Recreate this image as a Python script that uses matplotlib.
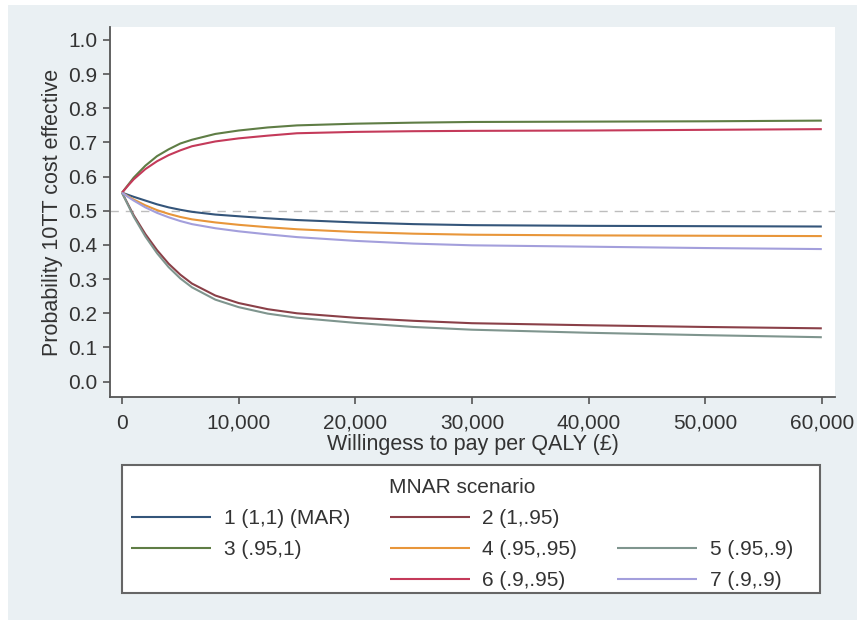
import matplotlib
matplotlib.use("Agg")
import matplotlib.pyplot as plt
from matplotlib.lines import Line2D
from matplotlib.patches import Rectangle
from matplotlib.ticker import FuncFormatter

plt.rcParams['font.family'] = ['Liberation Sans', 'DejaVu Sans']

# Willingness-to-pay grid (GBP per QALY)
wtp = [0, 500, 1000, 2000, 3000, 4000, 5000, 6000, 8000, 10000,
       12500, 15000, 20000, 25000, 30000, 40000, 50000, 60000]

# Probability cost effective, one list per MNAR scenario
s1_mar = [0.553, 0.547, 0.541, 0.530, 0.519, 0.510, 0.503, 0.497, 0.489, 0.484,
          0.478, 0.473, 0.466, 0.461, 0.458, 0.456, 0.455, 0.454]
s2_1_95 = [0.553, 0.520, 0.487, 0.432, 0.385, 0.345, 0.313, 0.287, 0.252, 0.230,
           0.212, 0.200, 0.187, 0.178, 0.171, 0.165, 0.160, 0.156]
s3_95_1 = [0.553, 0.575, 0.597, 0.632, 0.660, 0.680, 0.697, 0.708, 0.725, 0.735,
           0.744, 0.750, 0.755, 0.758, 0.760, 0.761, 0.762, 0.764]
s4_95_95 = [0.553, 0.543, 0.533, 0.516, 0.502, 0.491, 0.482, 0.475, 0.466, 0.459,
            0.452, 0.446, 0.438, 0.433, 0.430, 0.428, 0.427, 0.426]
s5_95_9 = [0.553, 0.518, 0.483, 0.425, 0.376, 0.335, 0.302, 0.276, 0.240, 0.218,
           0.199, 0.187, 0.172, 0.160, 0.152, 0.143, 0.136, 0.130]
s6_9_95 = [0.553, 0.573, 0.592, 0.622, 0.645, 0.663, 0.677, 0.689, 0.703, 0.712,
           0.720, 0.727, 0.731, 0.733, 0.734, 0.735, 0.737, 0.739]
s7_9_9 = [0.553, 0.541, 0.530, 0.510, 0.494, 0.481, 0.470, 0.461, 0.449, 0.440,
          0.431, 0.423, 0.412, 0.404, 0.399, 0.395, 0.391, 0.388]

labels = ["1 (1,1) (MAR)", "2 (1,.95)", "3 (.95,1)", "4 (.95,.95)",
          "5 (.95,.9)", "6 (.9,.95)", "7 (.9,.9)"]
series = [s1_mar, s2_1_95, s3_95_1, s4_95_95, s5_95_9, s6_9_95, s7_9_9]

# Stata s2color palette (slightly faded)
colors = ["#34557a", "#8a4048", "#5f7d45", "#e8963a", "#7f958e", "#c43a5a", "#a39fdc"]

W, H = 857, 620
fig = plt.figure(figsize=(W / 100, H / 100), dpi=100)
fig.patch.set_facecolor("white")

# graph region background
fig.patches.append(Rectangle((8 / W, 0), 1 - 8 / W, 1 - 5 / H,
                             transform=fig.transFigure, facecolor="#eaf0f3",
                             edgecolor="none", zorder=-10))

ax = fig.add_axes([110 / W, (H - 397) / H, (835 - 110) / W, (397 - 27) / H])
ax.set_facecolor("white")

lines = []
for ys, c, lab in zip(series, colors, labels):
    ln, = ax.plot(wtp, ys, color=c, lw=1.5, label=lab, solid_capstyle="butt")
    lines.append(ln)

ax.axhline(0.5, color="#bdbdbd", lw=1.0, dashes=(6, 5), zorder=0)

ax.set_xlim(-1030, 61130)
ax.set_ylim(-0.045, 1.038)
ax.set_xticks([0, 10000, 20000, 30000, 40000, 50000, 60000])
ax.xaxis.set_major_formatter(FuncFormatter(lambda v, p: f"{int(v):,}"))
ax.set_yticks([i / 10 for i in range(11)])
ax.yaxis.set_major_formatter(FuncFormatter(lambda v, p: f"{v:.1f}"))

txt = "#333333"
ax.tick_params(axis="both", direction="out", length=5, width=1.2,
               color="#555555", labelsize=15, labelcolor=txt, pad=4)
ax.tick_params(axis="x", pad=7)
for s in ["top", "right"]:
    ax.spines[s].set_visible(False)
for s in ["left", "bottom"]:
    ax.spines[s].set_color("#555555")
    ax.spines[s].set_linewidth(1.3)

ax.set_ylabel("Probability 10TT cost effective", fontsize=15.5, color=txt, labelpad=4)
ax.set_xlabel("Willingess to pay per QALY (£)", fontsize=15.5, color=txt, labelpad=1)

# legend box with holes to keep the Stata layout
blank = Line2D([], [], color="none")
handles = [lines[0], lines[2], blank, lines[1], lines[3], lines[5], blank, lines[4], lines[6]]
leg_labels = [labels[0], labels[2], "", labels[1], labels[3], labels[5], "", labels[4], labels[6]]

fig.patches.append(Rectangle((122 / W, (H - 593) / H), (820 - 122) / W, (593 - 465) / H,
                             transform=fig.transFigure, facecolor="white",
                             edgecolor="#666666", lw=1.5, zorder=1))

leg = fig.legend(handles, leg_labels, ncol=3, loc="upper center",
                 bbox_to_anchor=(462 / W, (H - 459) / H), frameon=False,
                 fontsize=15, title="MNAR scenario", title_fontsize=15,
                 handlelength=3.85, handletextpad=0.6, columnspacing=1.9,
                 labelspacing=0.58)
leg.get_title().set_color(txt)
for t in leg.get_texts():
    t.set_color(txt)
leg.set_zorder(2)

fig.savefig("out.png", dpi=100, facecolor=fig.get_facecolor())
